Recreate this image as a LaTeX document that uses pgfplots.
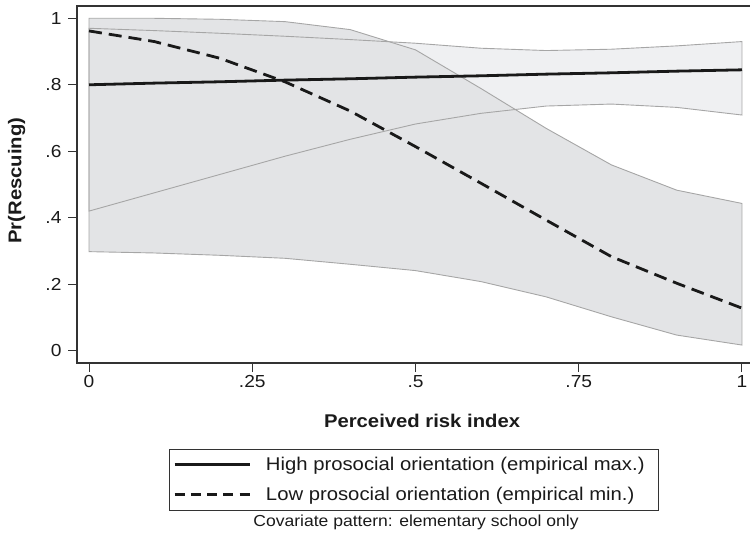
\documentclass[border=0pt]{standalone}
\usepackage{pgfplots}
\pgfplotsset{compat=1.18}
\usetikzlibrary{calc}
\usepackage{fontspec}
\setmainfont{Liberation Sans}[FakeStretch=1.1]
\definecolor{hiFill}{HTML}{EFF0F2}
\definecolor{loFill}{HTML}{E3E4E6}
\definecolor{edge}{HTML}{A6A6A6}
\definecolor{axc}{HTML}{333333}
\definecolor{txt}{HTML}{1A1A1A}
\begin{document}
\begin{tikzpicture}
\begin{axis}[
  scale only axis, width=674bp, height=357bp,
  xmin=-0.0184, xmax=1.0138, ymin=-0.037, ymax=1.037,
  axis line style={axc, line width=1.2bp},
  xtick={0,0.25,0.5,0.75,1}, xticklabels={0,.25,.5,.75,1},
  ytick={0,0.2,0.4,0.6,0.8,1}, yticklabels={0,.2,.4,.6,.8,1},
  xtick pos=lower, ytick pos=left, tick align=outside,
  major tick length=9bp, tick style={axc, line width=1bp},
  /pgf/number format/assume math mode=true,
  ticklabel style={font=\fontsize{17.5}{20}\selectfont, text=txt},
  yticklabel style={xshift=-3bp},
  xlabel={\bfseries Perceived risk index},
  ylabel={\bfseries Pr(Rescuing)},
  label style={font=\fontsize{18.5}{21}\selectfont, text=txt},
  xlabel style={at={(axis description cs:0.512,-0.1625)}, anchor=center},
  ylabel style={at={(axis description cs:-0.0895,0.511)}, anchor=center},
  legend style={at={(axis description cs:0.1365,-0.241)}, anchor=north west,
    draw=axc, fill=white, font=\fontsize{18.5}{21}\selectfont,
    text=txt, inner xsep=4bp, inner ysep=6bp, row sep=11bp,
    /tikz/every odd column/.append style={column sep=13bp}},
  legend cell align=left,
  legend image code/.code={\draw[#1, line width=2.8bp] (0bp,0bp) -- (75bp,0bp);},
]
\coordinate (sw) at (rel axis cs:0,0);
% high CI fill
\addplot[fill=hiFill, draw=none, forget plot] coordinates {
 (0,0.970) (0.1,0.963) (0.2,0.955) (0.3,0.946) (0.4,0.936) (0.5,0.925)
 (0.6,0.910) (0.7,0.903) (0.8,0.907) (0.9,0.917) (1,0.930)
 (1,0.709) (0.9,0.732) (0.8,0.742) (0.7,0.736) (0.6,0.714) (0.5,0.682)
 (0.4,0.636) (0.3,0.585) (0.2,0.530) (0.1,0.475) (0,0.420)} --cycle;
% low CI fill
\addplot[fill=loFill, draw=none, forget plot] coordinates {
 (0,1.000) (0.1,1.000) (0.2,0.997) (0.3,0.990) (0.4,0.966) (0.5,0.905)
 (0.6,0.789) (0.7,0.669) (0.8,0.559) (0.9,0.483) (1,0.443)
 (1,0.017) (0.9,0.047) (0.8,0.102) (0.7,0.162) (0.6,0.208) (0.5,0.241)
 (0.4,0.260) (0.3,0.278) (0.2,0.287) (0.1,0.294) (0,0.298)} --cycle;
% outlines
\addplot[draw=edge, line width=0.9bp, forget plot] coordinates {
 (0,0.970) (0.1,0.963) (0.2,0.955) (0.3,0.946) (0.4,0.936) (0.5,0.925)
 (0.6,0.910) (0.7,0.903) (0.8,0.907) (0.9,0.917) (1,0.930)
 (1,0.709) (0.9,0.732) (0.8,0.742) (0.7,0.736) (0.6,0.714) (0.5,0.682)
 (0.4,0.636) (0.3,0.585) (0.2,0.530) (0.1,0.475) (0,0.420)} --cycle;
\addplot[draw=edge, line width=0.9bp, forget plot] coordinates {
 (0,1.000) (0.1,1.000) (0.2,0.997) (0.3,0.990) (0.4,0.966) (0.5,0.905)
 (0.6,0.789) (0.7,0.669) (0.8,0.559) (0.9,0.483) (1,0.443)
 (1,0.017) (0.9,0.047) (0.8,0.102) (0.7,0.162) (0.6,0.208) (0.5,0.241)
 (0.4,0.260) (0.3,0.278) (0.2,0.287) (0.1,0.294) (0,0.298)} --cycle;
% predicted lines
\addplot[black!90, line width=2.8bp] coordinates {
 (0,0.800) (0.1,0.805) (0.2,0.809) (0.3,0.814) (0.4,0.818) (0.5,0.823)
 (0.6,0.827) (0.7,0.832) (0.8,0.836) (0.9,0.841) (1,0.845)};
\addlegendentry{High prosocial orientation (empirical max.)\hspace*{8bp}}
\addplot[black!90, line width=2.8bp, dash pattern=on 13bp off 7bp,
  legend image post style={dash pattern=on 10bp off 6.25bp}] coordinates {
 (0,0.962) (0.1,0.930) (0.2,0.880) (0.3,0.809) (0.4,0.721) (0.5,0.614)
 (0.6,0.504) (0.7,0.393) (0.8,0.283) (0.9,0.203) (1,0.128)};
\addlegendentry{Low prosocial orientation (empirical min.)}
\end{axis}
\node[font=\fontsize{16}{19}\selectfont, text=txt] at ($(sw)+(339bp,-159.5bp)$) {Covariate pattern: elementary school only};
\pgfresetboundingbox
\path[use as bounding box] ($(sw)+(-77bp,-178bp)$) rectangle ($(sw)+(673bp,363bp)$);
\end{tikzpicture}
\end{document}
